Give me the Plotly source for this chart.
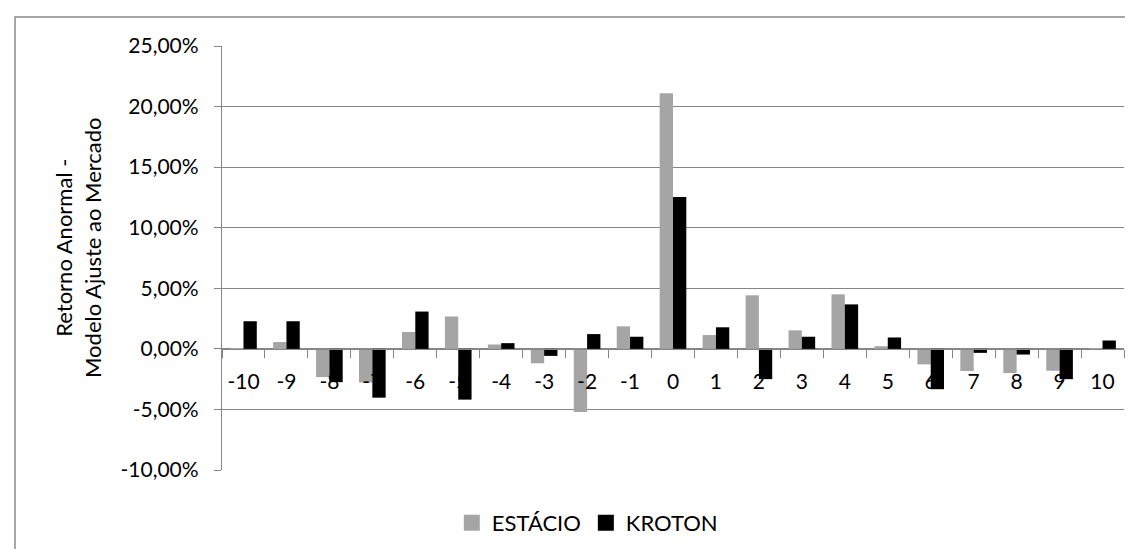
import plotly.graph_objects as go

categories = [str(i) for i in range(-10, 11)]
estacio = [0.05, 0.56, -2.33, -2.78, 1.39, 2.67, 0.36, -1.19, -5.22, 1.86,
           21.1, 1.14, 4.42, 1.53, 4.50, 0.22, -1.28, -1.83, -2.00, -1.81, -0.05]
kroton = [2.28, 2.28, -2.75, -4.03, 3.08, -4.19, 0.47, -0.58, 1.22, 1.00,
          12.54, 1.78, -2.50, 1.00, 3.67, 0.94, -3.33, -0.33, -0.47, -2.50, 0.69]
series_names = ["ESTÁCIO", "KROTON"]
series_colors = ["#a5a5a5", "#000000"]
ytick_vals = [-10, -5, 0, 5, 10, 15, 20, 25]
ytick_text = ["-10,00%", "-5,00%", "0,00%", "5,00%", "10,00%", "15,00%", "20,00%", "25,00%"]
y_title = "Retorno Anormal -<br>Modelo Ajuste ao Mercado"

FONT = "Lato"
GRID = "#868686"

fig = go.Figure()
for name, vals, col in zip(series_names, [estacio, kroton], series_colors):
    fig.add_trace(go.Bar(x=categories, y=vals, name=name, showlegend=False,
                         marker=dict(color=col, line=dict(width=0))))
# legend entries with larger square swatches
for name, col in zip(series_names, series_colors):
    fig.add_trace(go.Scatter(x=[None], y=[None], mode="markers", name=name,
                             marker=dict(symbol="square", size=16, color=col)))

ymin, ymax = -10, 25
fig.update_layout(
    width=1133, height=549,
    margin=dict(l=214, r=17, t=38, b=87),
    paper_bgcolor="white", plot_bgcolor="white",
    barmode="group", bargap=0.38, bargroupgap=0,
    font=dict(family=FONT, size=21, color="#000000"),
    showlegend=True,
    legend=dict(orientation="h", x=0.405, xanchor="center", y=-0.125, yanchor="middle",
                font=dict(family=FONT, size=22), itemwidth=30, traceorder="normal"),
    xaxis=dict(type="category", anchor="free", position=(0 - ymin) / (ymax - ymin),
               showline=True, linecolor=GRID, linewidth=1.3,
               ticks="outside", tickson="boundaries", ticklen=8, tickcolor=GRID, tickwidth=1.3,
               showgrid=False, ticklabelstandoff=14,
               tickfont=dict(family=FONT, size=21)),
    yaxis=dict(range=[ymin, ymax], tickvals=ytick_vals, ticktext=ytick_text,
               showline=True, linecolor=GRID, linewidth=1.3,
               ticks="outside", ticklen=7, tickcolor=GRID, tickwidth=1.3,
               showgrid=True, gridcolor=GRID, gridwidth=1.3, zeroline=False,
               ticklabelstandoff=11, tickfont=dict(family=FONT, size=21)),
    annotations=[dict(text=y_title, xref="paper", yref="paper",
                      x=(70 - 214) / 902, y=(462 - 240) / 424, xanchor="center", yanchor="middle",
                      textangle=-90, showarrow=False, font=dict(family=FONT, size=22))],
    shapes=[dict(type="rect", xref="paper", yref="paper",
                 x0=(7 - 214) / 902, x1=(1160 - 214) / 902,
                 y0=(462 - 580) / 424, y1=(462 - 9) / 424,
                 line=dict(color="#8a8a8a", width=1.5), fillcolor="rgba(0,0,0,0)", layer="below")],
)

fig.write_html("out.html")
